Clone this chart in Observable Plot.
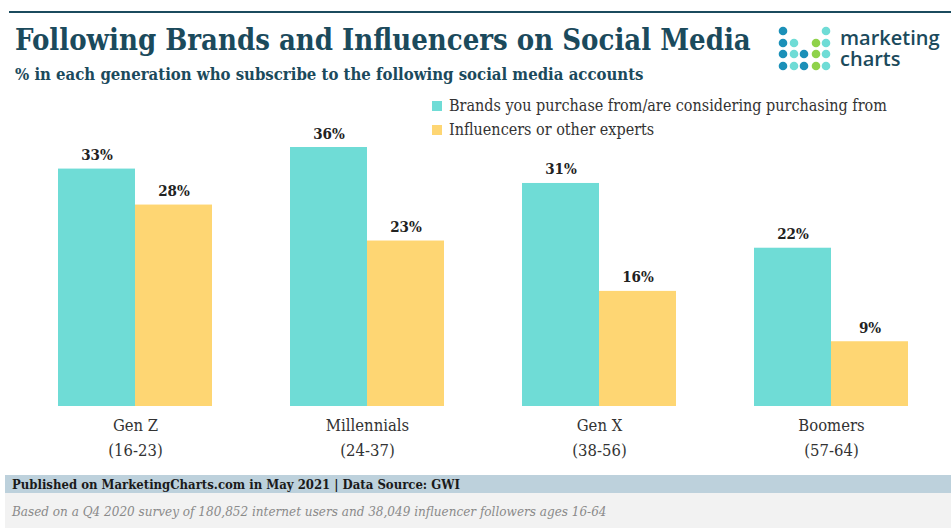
<!DOCTYPE html>
<html>
<head>
<meta charset="utf-8">
<script src="https://cdn.jsdelivr.net/npm/d3@7"></script>
<script src="https://cdn.jsdelivr.net/npm/@observablehq/plot@0.6"></script>
<style>
  body { margin: 0; background: #fff; }
  #wrap { position: relative; width: 951px; height: 530px; overflow: hidden;
    font-family: "DejaVu Serif Condensed", "DejaVu Serif", serif; font-stretch: condensed; }
  .topline { position: absolute; left: 9px; right: 0; top: 11px; height: 2px; background: #1b4b5e; }
  .title { position: absolute; left: 15px; top: 23px; font-size: 29px; font-weight: bold; color: #1b4a5c; white-space: nowrap; }
  .subtitle { position: absolute; left: 15px; top: 64px; font-size: 16.6px; font-weight: bold; color: #1b4a5c; white-space: nowrap; }
  .logo { position: absolute; left: 775px; top: 22px; }
  .logotext { position: absolute; left: 840px; font-family: "Open Sans", "DejaVu Sans", sans-serif; font-stretch: normal; font-weight: 600; font-size: 20px; line-height: 20px; height: 20px; color: #1b4a5c; white-space: nowrap; }
  .legend { position: absolute; left: 432px; font-size: 16px; color: #333; white-space: nowrap; }
  .legend span.sw { display: inline-block; width: 10px; height: 10px; margin-right: 7px; vertical-align: 0px; }
  #chart { position: absolute; left: 0; top: 95px; }
  .pub { position: absolute; left: 5px; right: 0; top: 475px; height: 18px; background: #bdd1dc; font-size: 13px; font-weight: bold; color: #1a1a1a; padding-left: 7px; line-height: 19px; }
  .note { position: absolute; left: 5px; right: 0; top: 493px; height: 35px; background: #f2f2f2; font-size: 13.4px; font-style: italic; color: #8a8a8a; padding-left: 7px; line-height: 37px; }
</style>
</head>
<body>
<div id="wrap">
  <div class="topline"></div>
  <div class="title">Following Brands and Influencers on Social Media</div>
  <div class="subtitle">% in each generation who subscribe to the following social media accounts</div>
  <svg class="logo" width="60" height="52" id="logo"></svg>
  <div class="logotext" style="top:28px">marketing</div>
  <div class="logotext" style="top:49px">charts</div>
  <div id="chart"></div>
  <div class="legend" style="top:96px"><span class="sw" style="background:#6fdcd6"></span>Brands you purchase from/are considering purchasing from</div>
  <div class="legend" style="top:120px"><span class="sw" style="background:#fed673"></span>Influencers or other experts</div>
  <div class="pub">Published on MarketingCharts.com in May 2021 | Data Source: GWI</div>
  <div class="note">Based on a Q4 2020 survey of 180,852 internet users and 38,049 influencer followers ages 16-64</div>
</div>
<script>
const generations = ["Gen Z", "Millennials", "Gen X", "Boomers"];
const ageRanges = ["(16-23)", "(24-37)", "(38-56)", "(57-64)"];
const seriesNames = ["Brands you purchase from/are considering purchasing from", "Influencers or other experts"];
const brands = [33, 36, 31, 22];
const influencers = [28, 23, 16, 9];
const colors = ["#6fdcd6", "#fed673"];

const data = [];
generations.forEach((g, i) => {
  data.push({gen: g, series: seriesNames[0], value: brands[i]});
  data.push({gen: g, series: seriesNames[1], value: influencers[i]});
});
const ageOf = Object.fromEntries(generations.map((g, i) => [g, ageRanges[i]]));

const chart = Plot.plot({
  width: 951,
  height: 380,
  marginTop: 52,
  marginBottom: 69,
  marginLeft: 17,
  marginRight: 3,
  style: {fontFamily: '"DejaVu Serif Condensed", "DejaVu Serif", serif', background: "transparent"},
  fx: {domain: generations, padding: 0, label: null},
  x: {domain: seriesNames, axis: null, paddingInner: 0, paddingOuter: 0.494},
  y: {domain: [0, 36], axis: null},
  color: {domain: seriesNames, range: colors},
  marks: [
    Plot.barY(data, {fx: "gen", x: "series", y: "value", fill: "series"}),
    Plot.text(data, {fx: "gen", x: "series", y: "value", text: d => d.value + "%", lineAnchor: "bottom", dy: -9, fontSize: 15, fontWeight: "bold", fill: "#222"}),
    Plot.axisFx({anchor: "bottom", tickSize: 0, tickPadding: 7, fontSize: 16.5, lineHeight: 1.5, fill: "#333", tickFormat: g => g + "\n" + ageOf[g], label: null})
  ]
});
document.getElementById("chart").appendChild(chart);

// logo dots
const dotCols = [8, 19, 29, 41, 51];
const dotRows = [9, 21, 32, 44];
const pattern = [
  ["b", null, null, null, "t"],
  ["b", "t", null, "g", "t"],
  ["b", "t", "b", "g", "t"],
  ["b", "t", "b", "g", "t"]
];
const dotColor = {b: "#1b90b8", t: "#6fdcd6", g: "#8fd24a"};
const logo = d3.select("#logo");
pattern.forEach((row, r) => row.forEach((c, k) => {
  if (c) logo.append("circle").attr("cx", dotCols[k]).attr("cy", dotRows[r]).attr("r", 4.3).attr("fill", dotColor[c]);
}));
</script>
</body>
</html>
